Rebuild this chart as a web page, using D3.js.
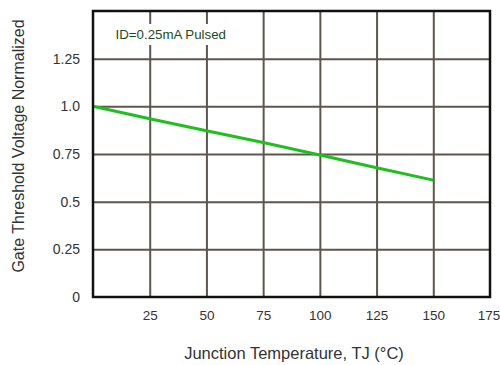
<!DOCTYPE html>
<html>
<head>
<meta charset="utf-8">
<script src="https://cdn.jsdelivr.net/npm/d3@7"></script>
<style>
  html, body { margin: 0; padding: 0; background: #fff; }
  svg { display: block; font-family: "Liberation Sans", Arial, sans-serif; }
</style>
</head>
<body>
<svg id="chart" width="500" height="365"></svg>
<script>
// Normalized gate threshold voltage vs. junction temperature
const temperatures = [0, 25, 50, 75, 100, 125, 150];
const vthNormalized = [1.0, 0.935, 0.872, 0.81, 0.745, 0.678, 0.613];
const xTicks = [25, 50, 75, 100, 125, 150, 175];
const yTicks = [0, 0.25, 0.5, 0.75, 1.0, 1.25];
const yTickLabels = ["0", "0.25", "0.5", "0.75", "1.0", "1.25"];
const conditionLabel = "ID=0.25mA Pulsed";

const svg = d3.select("#chart");
const plotLeft = 93, plotRight = 490, plotTop = 11, plotBottom = 297;

const x = d3.scaleLinear().domain([0, 175]).range([plotLeft, plotRight]);
const y = d3.scaleLinear().domain([0, 1.5]).range([plotBottom, plotTop]);

const gridColor = "#5e564c";

// vertical grid
svg.append("g")
  .attr("transform", `translate(0,${plotBottom})`)
  .call(d3.axisBottom(x).tickValues(xTicks.filter(d => d < 175))
    .tickSize(-(plotBottom - plotTop)).tickFormat(""))
  .call(g => g.select(".domain").remove())
  .call(g => g.selectAll("line").attr("stroke", gridColor).attr("stroke-width", 2));

// horizontal grid
svg.append("g")
  .attr("transform", `translate(${plotLeft},0)`)
  .call(d3.axisLeft(y).tickValues(yTicks.filter(d => d > 0))
    .tickSize(-(plotRight - plotLeft)).tickFormat(""))
  .call(g => g.select(".domain").remove())
  .call(g => g.selectAll("line").attr("stroke", gridColor).attr("stroke-width", 2));

// condition label with white backing
const lbl = svg.append("g");
lbl.append("rect")
  .attr("x", 112).attr("y", 24).attr("width", 118).attr("height", 21)
  .attr("fill", "#fff");
lbl.append("text")
  .attr("x", 115.5).attr("y", 39)
  .attr("font-size", 13.3)
  .attr("fill", "#1d4a1d")
  .text(conditionLabel);

// data line
svg.append("path")
  .datum(temperatures.map((t, i) => [t, vthNormalized[i]]))
  .attr("fill", "none")
  .attr("stroke", "#1fbf1f")
  .attr("stroke-width", 3)
  .attr("d", d3.line().x(d => x(d[0])).y(d => y(d[1])));

// frame
svg.append("rect")
  .attr("x", plotLeft).attr("y", plotTop)
  .attr("width", plotRight - plotLeft).attr("height", plotBottom - plotTop)
  .attr("fill", "none").attr("stroke", "#111").attr("stroke-width", 2.5);

// x tick labels
svg.append("g")
  .attr("transform", `translate(0,${plotBottom})`)
  .call(d3.axisBottom(x).tickValues(xTicks).tickSize(0).tickPadding(13).tickFormat(d3.format("d")))
  .call(g => g.select(".domain").remove())
  .call(g => g.selectAll("text").attr("font-size", 13.5).attr("fill", "#333")
    .attr("font-family", "Liberation Sans, Arial, sans-serif"))
  // keep the last label inside the canvas
  .call(g => g.selectAll(".tick").filter(d => d === 175).select("text").attr("dx", -1.5));

// y tick labels
svg.append("g")
  .attr("transform", `translate(${plotLeft},0)`)
  .call(d3.axisLeft(y).tickValues(yTicks).tickSize(0).tickPadding(13)
    .tickFormat((d, i) => yTickLabels[i]))
  .call(g => g.select(".domain").remove())
  .call(g => g.selectAll("text").attr("font-size", 14).attr("fill", "#333")
    .attr("font-family", "Liberation Sans, Arial, sans-serif"));

// axis titles
svg.append("text")
  .attr("x", 294).attr("y", 359)
  .attr("text-anchor", "middle")
  .attr("font-size", 16.5).attr("fill", "#333")
  .text("Junction Temperature, TJ (°C)");

svg.append("text")
  .attr("transform", "translate(24,146) rotate(-90)")
  .attr("text-anchor", "middle")
  .attr("font-size", 16).attr("fill", "#333")
  .text("Gate Threshold Voltage Normalized");
</script>
</body>
</html>
